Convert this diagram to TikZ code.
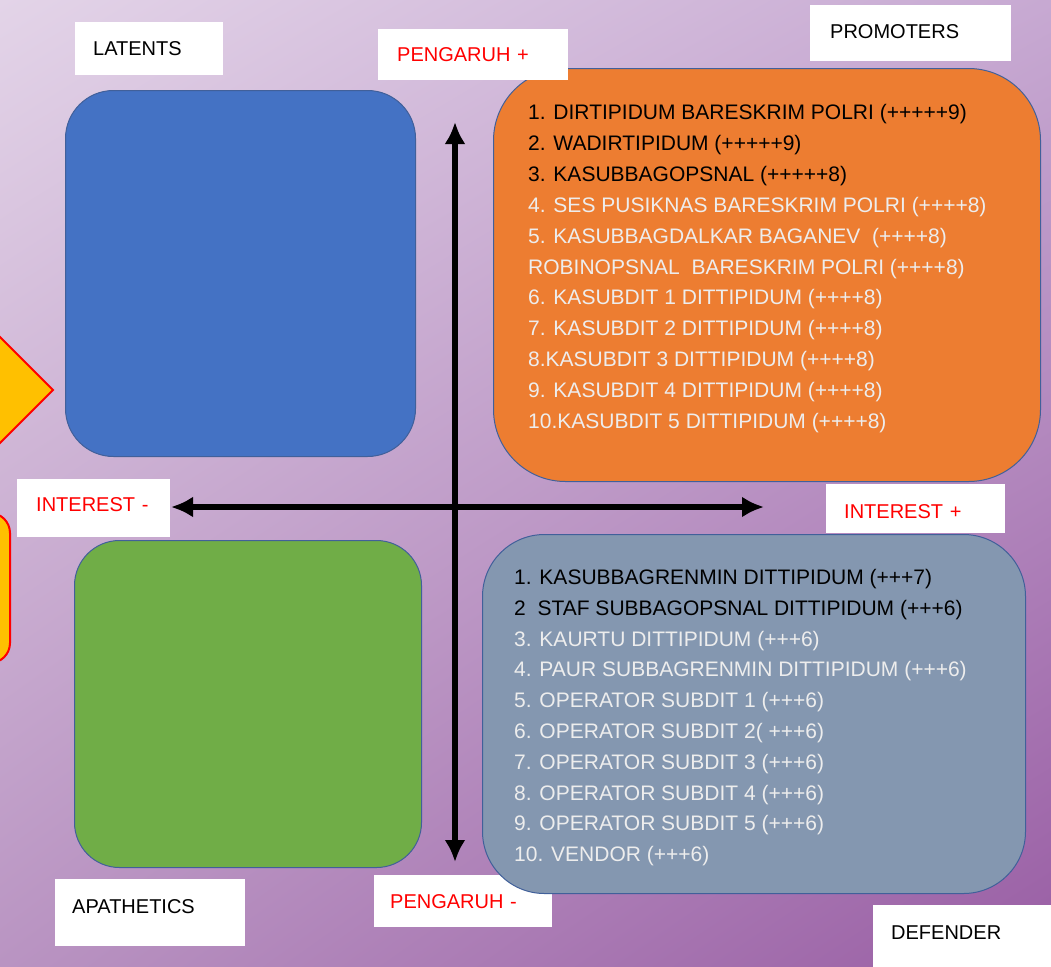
\documentclass[tikz,border=0pt]{standalone}
\usepackage{fontspec}
\setmainfont{Liberation Sans}
\usetikzlibrary{arrows.meta,shadings}
\definecolor{bgTL}{HTML}{E3D4E8}
\definecolor{bgTR}{HTML}{C7A9D2}
\definecolor{bgBL}{HTML}{B994C2}
\definecolor{bgBR}{HTML}{995EA4}
\definecolor{blueq}{HTML}{4472C4}
\definecolor{orangeq}{HTML}{ED7D31}
\definecolor{greenq}{HTML}{70AD47}
\definecolor{grayq}{HTML}{8497B0}
\definecolor{edgeq}{HTML}{41609A}
\definecolor{yellowq}{HTML}{FFC000}
\definecolor{redq}{HTML}{FF0000}
\definecolor{lighttext}{HTML}{EDEDED}
\newcommand{\lblfont}{\fontsize{20}{24}\selectfont}
\newcommand{\lstfont}{\fontsize{21}{25}\selectfont}
\begin{document}
\begin{tikzpicture}[x=1pt,y=-1pt,
  lbl/.style={fill=white, anchor=north west, align=left, inner ysep=0pt,
    text height=14.3pt, text depth=0pt, font=\lblfont},
  quad/.style={draw=edgeq, line width=1pt, anchor=north west, inner sep=0pt},
  lst/.style={anchor=base west, inner sep=0pt, font=\lstfont},
  lite/.style={lst, text=lighttext},
  dark/.style={lst, text=black},
  axis/.style={line width=6pt, arrows={Latex[length=22pt,width=21pt]-Latex[length=22pt,width=21pt]}}
]
\useasboundingbox (0,0) rectangle (1051,966);
\clip (0,0) rectangle (1051,966);
\shade[upper left=bgTL, upper right=bgTR, lower left=bgBL, lower right=bgBR] (0,0) rectangle (1051,966);

% yellow partial shapes at left edge
\draw[fill=yellowq, draw=redq, line width=2pt] (-30,307) -- (53,390) -- (-30,473) -- cycle;
\draw[fill=yellowq, draw=redq, line width=2pt, rounded corners=20pt] (-40,513) rectangle (10,663);

% label under the defender box
\node[lbl, text=redq, minimum height=52pt, inner xsep=16pt, text width=146pt] (pminus) at (374,875) {PENGARUH -};

% quadrant boxes
\node[quad, fill=blueq, minimum width=350pt, minimum height=366pt, rounded corners=48pt] (latent) at (65,90) {};
\node[quad, fill=orangeq, minimum width=547pt, minimum height=413pt, rounded corners=72pt] (promo) at (493,68) {};
\node[quad, fill=greenq, minimum width=347pt, minimum height=327pt, rounded corners=45pt] (apath) at (74,540) {};
\node[quad, fill=grayq, minimum width=543pt, minimum height=359pt, rounded corners=62pt] (defend) at (482,534) {};

% labels
\node[lbl, minimum height=53pt, inner xsep=18pt, text width=112pt] (latlbl) at (75,22) {LATENTS};
\node[lbl, text=redq, minimum height=51pt, inner xsep=19pt, text width=152pt] (pplus) at (378,29) {PENGARUH +};
\node[lbl, minimum height=56pt, inner xsep=20pt, text width=161pt, text depth=4pt] (prolbl) at (810,5) {PROMOTERS};
\node[lbl, text=redq, minimum height=58pt, inner xsep=19pt, text width=115pt, text depth=8pt] (iminus) at (17,479) {INTEREST -};
\node[lbl, text=redq, minimum height=49pt, inner xsep=18pt, text width=143pt, text height=19.3pt] (iplus) at (826,484) {INTEREST +};
\node[lbl, minimum height=67pt, inner xsep=17pt, text width=156pt, text depth=13pt] (aplbl) at (55,879) {APATHETICS};
\node[lbl, minimum height=62pt, inner xsep=18pt, text width=142pt, text depth=7pt] (deflbl) at (873,905) {DEFENDER};

% axes
\coordinate (vtop) at (455,122);
\coordinate (vbot) at (455,862);
\coordinate (hleft) at (171,507);
\coordinate (hright) at (764,507);
\draw[axis] (vtop) -- (vbot);
\draw[axis] (hleft) -- (hright);

% promoters list
\node[dark] (p1) at (528,119.5) {1. DIRTIPIDUM BARESKRIM POLRI (+++++9)};
\node[dark] (p2) at (528,150.4) {2. WADIRTIPIDUM (+++++9)};
\node[dark] (p3) at (528,181.3) {3. KASUBBAGOPSNAL (+++++8)};
\node[lite] (p4) at (528,212.2) {4. SES PUSIKNAS BARESKRIM POLRI (++++8)};
\node[lite] (p5) at (528,243.1) {5. KASUBBAGDALKAR BAGANEV\ \ (++++8)};
\node[lite] (p5b) at (528,274.0) {ROBINOPSNAL\ \ BARESKRIM POLRI (++++8)};
\node[lite] (p6) at (528,304.9) {6. KASUBDIT 1 DITTIPIDUM (++++8)};
\node[lite] (p7) at (528,335.8) {7. KASUBDIT 2 DITTIPIDUM (++++8)};
\node[lite] (p8) at (528,366.7) {8.KASUBDIT 3 DITTIPIDUM (++++8)};
\node[lite] (p9) at (528,397.6) {9. KASUBDIT 4 DITTIPIDUM (++++8)};
\node[lite] (p10) at (528,428.5) {10.KASUBDIT 5 DITTIPIDUM (++++8)};

% defender list
\node[dark] (d1) at (514,584.5) {1. KASUBBAGRENMIN DITTIPIDUM (+++7)};
\node[dark] (d2) at (514,615.3) {2\ \ STAF SUBBAGOPSNAL DITTIPIDUM (+++6)};
\node[lite] (d3) at (514,646.1) {3. KAURTU DITTIPIDUM (+++6)};
\node[lite] (d4) at (514,676.9) {4. PAUR SUBBAGRENMIN DITTIPIDUM (+++6)};
\node[lite] (d5) at (514,707.7) {5. OPERATOR SUBDIT 1 (+++6)};
\node[lite] (d6) at (514,738.5) {6. OPERATOR SUBDIT 2( +++6)};
\node[lite] (d7) at (514,769.3) {7. OPERATOR SUBDIT 3 (+++6)};
\node[lite] (d8) at (514,800.1) {8. OPERATOR SUBDIT 4 (+++6)};
\node[lite] (d9) at (514,830.9) {9. OPERATOR SUBDIT 5 (+++6)};
\node[lite] (d10) at (514,861.7) {10. VENDOR (+++6)};
\end{tikzpicture}
\end{document}
